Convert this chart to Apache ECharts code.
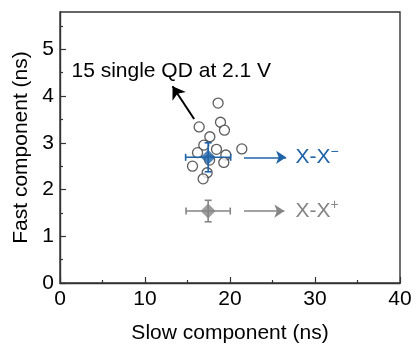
<!DOCTYPE html>
<html>
<head>
<meta charset="utf-8">
<script src="https://cdn.jsdelivr.net/npm/echarts@6/dist/echarts.min.js"></script>
<style>
  html, body { margin: 0; padding: 0; background: #fff; }
  #chart { width: 414px; height: 347px; }
</style>
</head>
<body>
<div id="chart"></div>
<script>
// single QD points (slow ns, fast ns)
const qdSlow = [18.60, 16.37, 18.88, 19.35, 17.63, 16.92, 18.41, 16.18, 19.51, 21.39, 19.27, 15.59, 17.31, 16.84, 17.60];
const qdFast = [3.85, 3.34, 3.44, 3.27, 3.13, 2.95, 2.86, 2.79, 2.74, 2.87, 2.58, 2.50, 2.36, 2.23, 2.63];

// averages with error bars: [x, y, xErr, yErr]
const avgMinus = [17.43, 2.69, 2.65, 0.31];
const avgPlus = [17.43, 1.54, 2.60, 0.23];

// arrows [x1, y1, x2, y2]
const arrowQD = [15.78, 3.51, 13.24, 4.21];
const arrowMinus = [21.65, 2.69, 26.6, 2.69];
const arrowPlus = [21.65, 1.54, 26.4, 1.54];

// text anchors
const labelQD = [1.35, 4.54];
const labelMinus = [27.7, 2.69];
const labelPlus = [27.7, 1.54];

const yTicks = [0, 1, 2, 3, 4, 5];
const yMinor = [0.5, 1.5, 2.5, 3.5, 4.5, 5.5];

const BLUE = '#1f63a8';
const GRAY = '#858585';
const INK = '#000';
const FONT = '"Liberation Sans", Arial, Helvetica, sans-serif';
const FS = 21;

const chart = echarts.init(document.getElementById('chart'));

const errorBar = (color) => (params, api) => {
  const x = api.value(0), y = api.value(1), ex = api.value(2), ey = api.value(3);
  const l = api.coord([x - ex, y]);
  const r = api.coord([x + ex, y]);
  const t = api.coord([x, y + ey]);
  const b = api.coord([x, y - ey]);
  const c = 3.5;
  const style = { stroke: color, lineWidth: 1.6 };
  return {
    type: 'group',
    children: [
      { type: 'line', shape: { x1: l[0], y1: l[1], x2: r[0], y2: r[1] }, style },
      { type: 'line', shape: { x1: l[0], y1: l[1] - c, x2: l[0], y2: l[1] + c }, style },
      { type: 'line', shape: { x1: r[0], y1: r[1] - c, x2: r[0], y2: r[1] + c }, style },
      { type: 'line', shape: { x1: t[0], y1: t[1], x2: b[0], y2: b[1] }, style },
      { type: 'line', shape: { x1: t[0] - c, y1: t[1], x2: t[0] + c, y2: t[1] }, style },
      { type: 'line', shape: { x1: b[0] - c, y1: b[1], x2: b[0] + c, y2: b[1] }, style },
    ],
  };
};

const arrow = (a, color, width, size) => ({
  silent: true,
  symbol: ['none', 'arrow'],
  symbolSize: size,
  lineStyle: { color, width, type: 'solid' },
  label: { show: false },
  emphasis: { disabled: true },
  data: [[{ coord: [a[0], a[1]] }, { coord: [a[2], a[3]] }]],
});

const textLabel = (pos, formatter, rich, color) => ({
  type: 'scatter', symbolSize: 0, z: 5, silent: true,
  data: [pos],
  itemStyle: { opacity: 1 },
  label: {
    show: true, position: 'right', distance: 0, formatter,
    fontSize: FS, color, fontFamily: FONT, opacity: 1, rich,
  },
});

const option = {
  animation: false,
  textStyle: { fontFamily: FONT },
  grid: {
    left: 60, right: 14, top: 12, bottom: 64,
    outerBoundsMode: 'none', containLabel: false,
    show: true, borderColor: '#333', borderWidth: 1.4, backgroundColor: 'transparent',
  },
  xAxis: {
    type: 'value', min: 0, max: 40, interval: 10,
    name: 'Slow component (ns)', nameLocation: 'middle', nameGap: 40,
    nameTextStyle: { fontSize: FS, color: INK, fontFamily: FONT },
    axisLine: { show: true, onZero: false, lineStyle: { color: '#333', width: 1.4 } },
    axisTick: { show: true, inside: true, length: 6, lineStyle: { color: '#333', width: 1.2 } },
    minorTick: { show: true, splitNumber: 2, length: 3, lineStyle: { color: '#333', width: 1.2 } },
    axisLabel: { fontSize: FS, color: INK, margin: 6, fontFamily: FONT },
    splitLine: { show: false },
  },
  yAxis: [
    {
      type: 'value', min: 0, max: 5.8, interval: 1,
      name: 'Fast component (ns)', nameLocation: 'middle', nameGap: 26,
      nameTextStyle: { fontSize: FS, color: INK, fontFamily: FONT },
      axisLine: { show: true, onZero: false, lineStyle: { color: '#333', width: 1.4 } },
      axisTick: { show: true, inside: true, length: 6, customValues: yTicks, lineStyle: { color: '#333', width: 1.2 } },
      axisLabel: { fontSize: FS, color: INK, margin: 6, customValues: yTicks, fontFamily: FONT },
      splitLine: { show: false },
    },
    {
      type: 'value', min: 0, max: 5.8, interval: 0.5, position: 'left',
      axisLine: { show: false },
      axisTick: { show: true, inside: true, length: 3, customValues: yMinor, lineStyle: { color: '#333', width: 1.2 } },
      axisLabel: { show: false },
      splitLine: { show: false },
    },
  ],
  series: [
    {
      type: 'scatter',
      data: qdSlow.map((x, i) => [x, qdFast[i]]),
      symbol: 'circle', symbolSize: 10,
      itemStyle: { color: '#fff', borderColor: '#333', borderWidth: 1.3 },
      z: 2,
    },
    {
      type: 'custom', renderItem: errorBar(BLUE), data: [avgMinus], z: 3, silent: true,
    },
    {
      type: 'custom', renderItem: errorBar(GRAY), data: [avgPlus], z: 3, silent: true,
    },
    {
      type: 'scatter', data: [[avgMinus[0], avgMinus[1]]],
      symbol: 'diamond', symbolSize: 15, itemStyle: { color: BLUE }, z: 4,
      markLine: arrow(arrowMinus, BLUE, 1.6, 10),
    },
    {
      type: 'scatter', data: [[avgPlus[0], avgPlus[1]]],
      symbol: 'diamond', symbolSize: 15, itemStyle: { color: GRAY }, z: 4,
      markLine: arrow(arrowPlus, GRAY, 1.6, 10),
    },
    Object.assign(textLabel(labelQD, '15 single QD at 2.1 V', undefined, INK), {
      markLine: arrow(arrowQD, INK, 2, 12),
    }),
    textLabel(labelMinus, '{b|X-X}{s|\u2212}', {
      b: { fontSize: FS, color: BLUE, fontFamily: FONT },
      s: { fontSize: 14, color: BLUE, fontFamily: FONT, padding: [0, 0, 11, 0] },
    }, BLUE),
    textLabel(labelPlus, '{b|X-X}{s|+}', {
      b: { fontSize: FS, color: GRAY, fontFamily: FONT },
      s: { fontSize: 14, color: GRAY, fontFamily: FONT, padding: [0, 0, 11, 0] },
    }, GRAY),
  ],
};

chart.setOption(option);
</script>
</body>
</html>
